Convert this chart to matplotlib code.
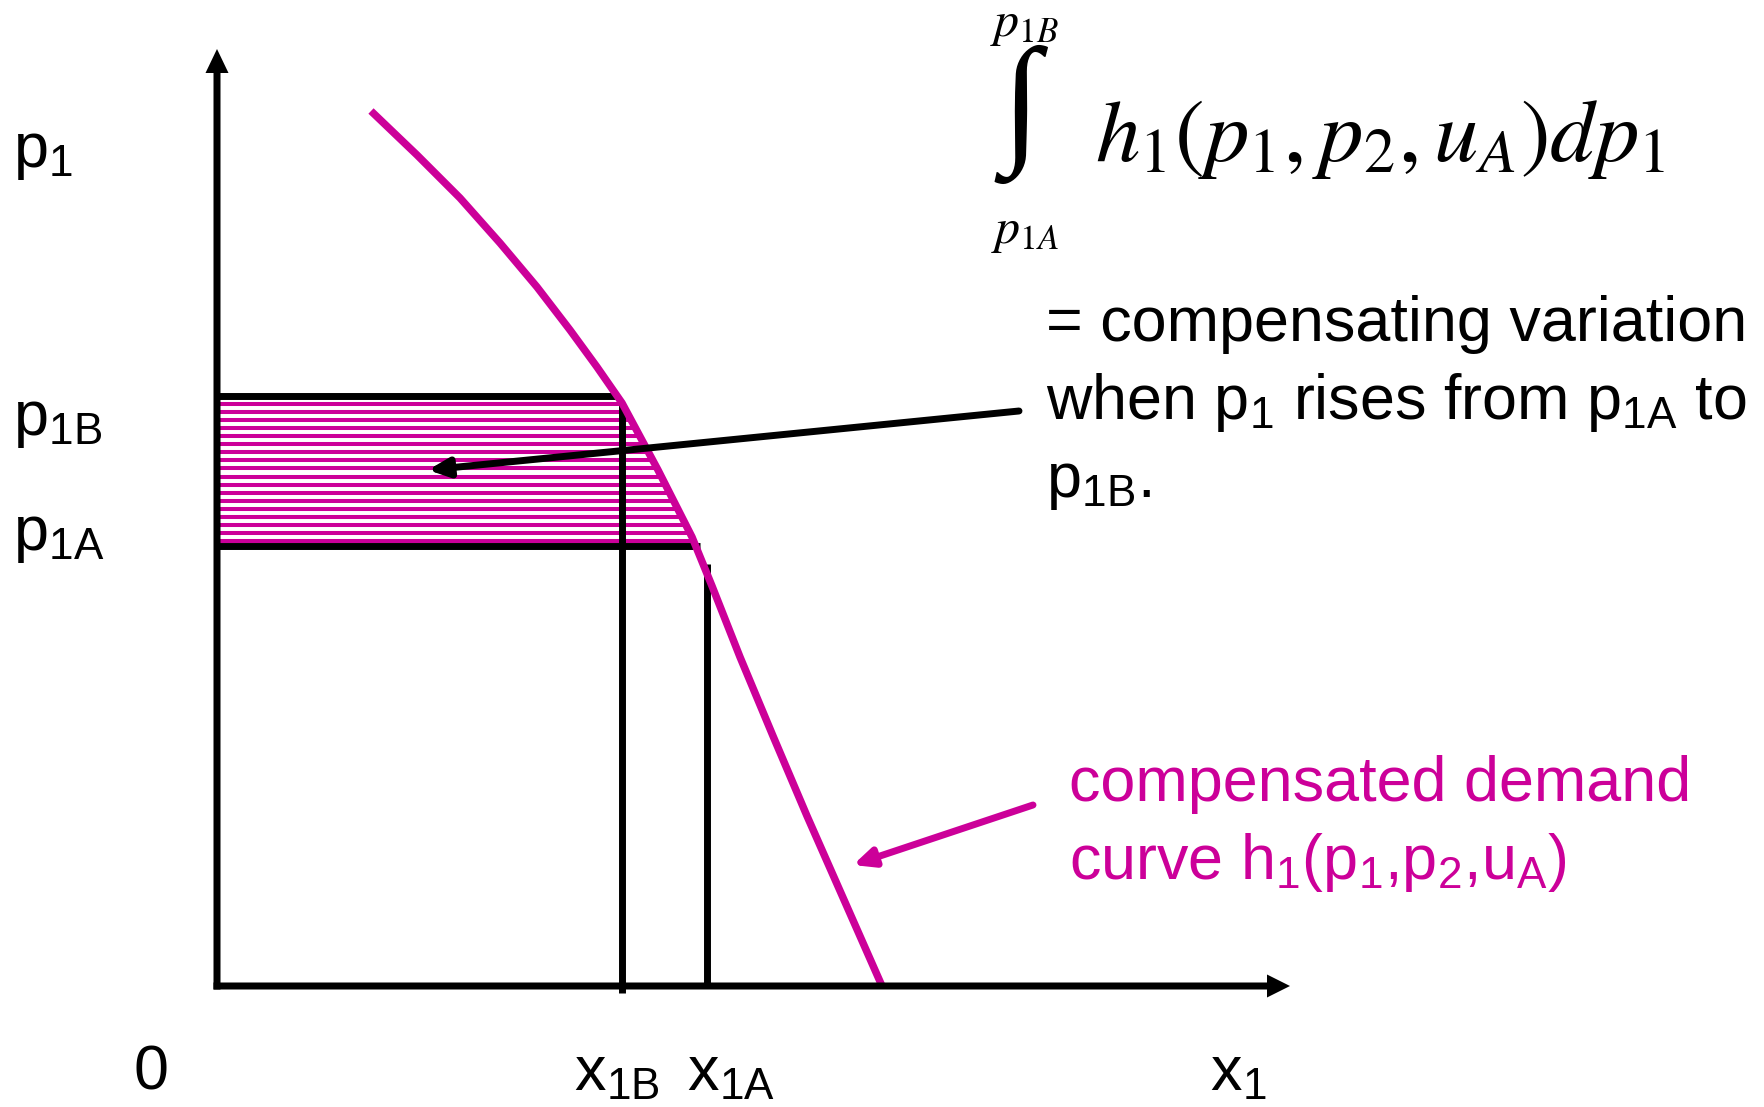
import numpy as np
import matplotlib
matplotlib.use("Agg")
import matplotlib.pyplot as plt

plt.rcParams['font.family'] = ['Liberation Sans', 'DejaVu Sans']
plt.rcParams['mathtext.fontset'] = 'custom'
plt.rcParams['mathtext.rm'] = 'Liberation Sans'
plt.rcParams['mathtext.it'] = 'Liberation Sans:italic'
plt.rcParams['mathtext.bf'] = 'Liberation Sans:bold'

MAGENTA = '#CC0099'

# ---- data (diagram units) ----
curve_x = [1.54, 2.00, 2.43, 2.83, 3.20, 3.53, 3.80, 4.05, 4.41, 4.75, 4.95, 5.23, 5.56, 5.90, 6.65]
curve_y = [8.75, 8.31, 7.88, 7.43, 6.99, 6.56, 6.19, 5.83, 5.16, 4.49, 4.00, 3.29, 2.50, 1.70, 0.00]
p1A = 4.40
p1B = 5.90
x1B = 4.05
x1A = 4.90
x1B_top = 5.81
x1A_top = 4.22
p1B_line_end = 4.01
p1A_line_end = 4.83
x_axis_end = 10.73
y_axis_end = 9.37
n_stripes = 18

fig = plt.figure(figsize=(17.65, 11.07), dpi=100)
ax = fig.add_axes([0, 0, 1, 1])
ax.set_xlim(-2.17, 15.48)
ax.set_ylim(-1.21, 9.86)
ax.axis('off')

# hatched area (horizontal magenta stripes up to the curve)
cy = np.array(curve_y)[::-1]
cx = np.array(curve_x)[::-1]
stripe_y = np.linspace(p1A + 0.05, p1B - 0.08, n_stripes)
for sy in stripe_y:
    ex = np.interp(sy, cy, cx)
    ax.plot([0, ex], [sy, sy], color=MAGENTA, lw=2.9, solid_capstyle='butt', zorder=2)

# price lines
ax.plot([0, p1B_line_end], [p1B, p1B], color='black', lw=5, solid_capstyle='butt', zorder=3)
ax.plot([0, p1A_line_end], [p1A, p1A], color='black', lw=5, solid_capstyle='butt', zorder=3)

# quantity lines
ax.plot([x1B, x1B], [-0.07, x1B_top], color='black', lw=5, solid_capstyle='butt', zorder=3)
ax.plot([x1A, x1A], [0, x1A_top], color='black', lw=5, solid_capstyle='butt', zorder=3)

# demand curve
ax.plot(curve_x, curve_y, color=MAGENTA, lw=5.4, solid_capstyle='butt',
        solid_joinstyle='round', zorder=4)

# axes with arrows
ax.arrow(0, -0.035, 0, y_axis_end + 0.035, width=0.07, head_width=0.23, head_length=0.24,
         length_includes_head=True, color='black', lw=0, zorder=5)
ax.arrow(-0.035, 0, x_axis_end + 0.035, 0, width=0.07, head_width=0.23, head_length=0.23,
         length_includes_head=True, color='black', lw=0, zorder=5)

# annotation arrows
ax.annotate('', xy=(2.11, 5.16), xytext=(8.02, 5.75),
            arrowprops=dict(arrowstyle='-|>,head_length=1.2,head_width=0.55', lw=5,
                            color='black', shrinkA=0, shrinkB=0), zorder=6)
ax.annotate('', xy=(6.36, 1.21), xytext=(8.16, 1.81),
            arrowprops=dict(arrowstyle='-|>,head_length=1.2,head_width=0.55', lw=5,
                            color=MAGENTA, shrinkA=0, shrinkB=0), zorder=6)

FS = 45.3
# axis labels
ax.text(-2.04, 8.19, r'p$_1$', fontsize=FS, va='baseline', ha='left')
ax.text(-2.04, 5.51, r'p$_{\mathrm{1B}}$', fontsize=FS, va='baseline', ha='left')
ax.text(-2.04, 4.36, r'p$_{\mathrm{1A}}$', fontsize=FS, va='baseline', ha='left')
ax.text(-0.84, -1.04, '0', fontsize=FS, va='baseline', ha='left')
ax.text(3.57, -1.04, r'x$_{\mathrm{1B}}$', fontsize=FS, va='baseline', ha='left')
ax.text(4.70, -1.04, r'x$_{\mathrm{1A}}$', fontsize=FS, va='baseline', ha='left')
ax.text(9.93, -1.04, r'x$_1$', fontsize=FS, va='baseline', ha='left')

# explanation text
ax.text(8.29, 6.45, '= compensating variation', fontsize=FS, va='baseline', ha='left')
ax.text(8.29, 5.67, r'when p$_1$ rises from p$_{\mathrm{1A}}$ to', fontsize=FS, va='baseline', ha='left')
ax.text(8.29, 4.89, r'p$_{\mathrm{1B}}$.', fontsize=FS, va='baseline', ha='left')

ax.text(8.52, 1.85, 'compensated demand', fontsize=FS, va='baseline', ha='left', color=MAGENTA)
ax.text(8.52, 1.07, r'curve h$_1$(p$_1$,p$_2$,u$_{\mathrm{A}}$)', fontsize=FS, va='baseline',
        ha='left', color=MAGENTA)

# integral formula
ax.text(8.04, 8.72, '\u222b', family=['Liberation Serif', 'DejaVu Serif'], fontsize=102,
        ha='center', va='center')
ax.text(8.08, 9.50, r'$p_{1B}$', math_fontfamily='stix', fontsize=36, ha='center', va='baseline')
ax.text(8.08, 7.43, r'$p_{1A}$', math_fontfamily='stix', fontsize=36, ha='center', va='baseline')
ax.text(8.78, 8.25, r'$h_1(p_1, p_2, u_A)dp_1$', math_fontfamily='stix', fontsize=64,
        ha='left', va='baseline')

fig.savefig('out.png', dpi=100)
